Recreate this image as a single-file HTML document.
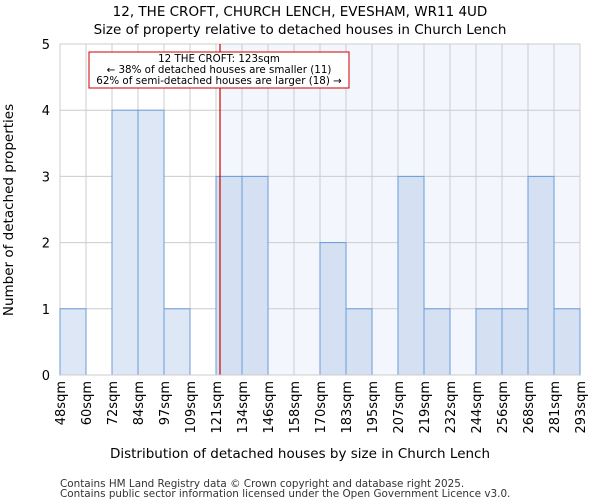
<!DOCTYPE html>
<html><head><meta charset="utf-8"><style>
body{margin:0;background:#fff;font-family:"DejaVu Sans","Liberation Sans",sans-serif;}
</style></head><body>
<svg id="chart" width="600" height="500" xmlns="http://www.w3.org/2000/svg" font-family="DejaVu Sans, Liberation Sans, sans-serif"></svg>
<script>
const tickLabels=["48sqm","60sqm","72sqm","84sqm","97sqm","109sqm","121sqm","134sqm","146sqm","158sqm","170sqm","183sqm","195sqm","207sqm","219sqm","232sqm","244sqm","256sqm","268sqm","281sqm","293sqm"];
const binEdges=[48,60,72,84,97,109,121,134,146,158,170,183,195,207,219,232,244,256,268,281,293];
const counts=[1,0,4,4,1,0,3,3,0,0,2,1,0,3,1,0,1,1,3,1];
const yTicks=[0,1,2,3,4,5];
const markerValue=123;

const svg=document.getElementById('chart');
const NS='http://www.w3.org/2000/svg';
const L=60,R=580,T=44,B=375;
const n=counts.length, bw=(R-L)/n;
const xBin=i=>L+i*bw;
const y=v=>B-(v/5)*(B-T);
function xVal(v){for(let i=0;i<binEdges.length-1;i++){if(v<=binEdges[i+1])return xBin(i)+(v-binEdges[i])/(binEdges[i+1]-binEdges[i])*bw;}return R;}
function mk(tag,a,p){const e=document.createElementNS(NS,tag);for(const k in a)e.setAttribute(k,a[k]);(p||svg).appendChild(e);return e;}
const mx=xVal(markerValue);

let e=mk('rect',{x:mx,y:T,width:R-mx,height:B-T,fill:'#f3f6fd'});



for(let i=0;i<=n;i++){e=mk('line',{x1:xBin(i),x2:xBin(i),y1:T,y2:B,stroke:'#cccccc','stroke-width':1});

}
yTicks.forEach(t=>{e=mk('line',{x1:L,x2:R,y1:y(t),y2:y(t),stroke:'#cccccc','stroke-width':1});


e=mk('text',{x:L-10,y:y(t)+5,'text-anchor':'end','font-size':13,fill:'#000'});e.textContent=t;

});

counts.forEach((c,i)=>{if(c<=0)return;const x0=xBin(i);
e=mk('rect',{x:x0,y:y(c),width:bw,height:B-y(c),fill:(x0>=mx-5?'#d5e1f3':'#dde7f5'),stroke:'#6a9bd8','stroke-width':1});

});

e=mk('line',{x1:mx,x2:mx,y1:T,y2:B,stroke:'#cc0000','stroke-width':1.2});



e=mk('line',{x1:L,x2:R,y1:B,y2:B,stroke:'#cccccc'});
tickLabels.forEach((t,i)=>{const x=xBin(i);
e=mk('text',{transform:`translate(${x+5},${B+6}) rotate(-90)`,'text-anchor':'end','font-size':13,fill:'#000'});e.textContent=t;

});

const g=mk('g',{});


mk('rect',{x:89,y:52,width:260,height:36,fill:'#fff',stroke:'#cc0000','stroke-width':1},g);
[["12 THE CROFT: 123sqm",63],["← 38% of detached houses are smaller (11)",74],["62% of semi-detached houses are larger (18) →",85]].forEach(([s,yy])=>{
const t=mk('text',{x:219,y:yy-1,'text-anchor':'middle','font-size':10.3,fill:'#000'},g);t.textContent=s;});

function txt(s,a,name){const t=mk('text',a);t.textContent=s;

}
txt("12, THE CROFT, CHURCH LENCH, EVESHAM, WR11 4UD",{x:300,y:16,'text-anchor':'middle','font-size':13.5},'chart-title');
txt("Size of property relative to detached houses in Church Lench",{x:300,y:34,'text-anchor':'middle','font-size':13.5},'chart-subtitle');
txt("Distribution of detached houses by size in Church Lench",{x:300,y:458,'text-anchor':'middle','font-size':13.5},'x-axis-title');
txt("Number of detached properties",{transform:'translate(13,210) rotate(-90)','text-anchor':'middle','font-size':13.5},'y-axis-title');
txt("Contains HM Land Registry data © Crown copyright and database right 2025.",{x:60,y:487,'font-size':10.4,fill:'#333'},'footer-line-1');
txt("Contains public sector information licensed under the Open Government Licence v3.0.",{x:60,y:497,'font-size':10.4,fill:'#333'},'footer-line-2');
</script>
</body></html>
